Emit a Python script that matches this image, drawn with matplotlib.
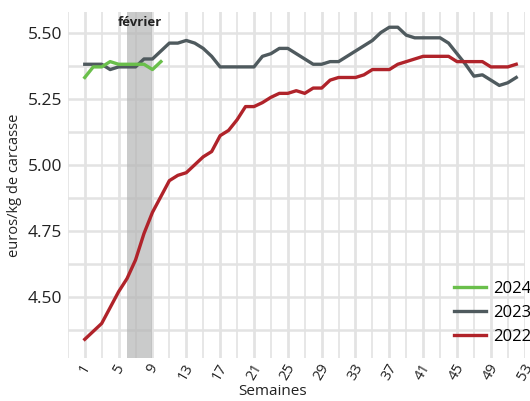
import matplotlib
matplotlib.use("Agg")
import matplotlib.pyplot as plt
import numpy as np

plt.rcParams['font.family'] = ['Open Sans', 'DejaVu Sans']

weeks_2022 = list(range(1, 53))
values_2022 = [4.34, 4.37, 4.40, 4.46, 4.52, 4.57, 4.64, 4.74, 4.82, 4.88,
               4.94, 4.96, 4.97, 5.00, 5.03, 5.05, 5.11, 5.13, 5.17, 5.22,
               5.22, 5.235, 5.255, 5.27, 5.27, 5.28, 5.27, 5.29, 5.29, 5.32,
               5.33, 5.33, 5.33, 5.34, 5.36, 5.36, 5.36, 5.38, 5.39, 5.40,
               5.41, 5.41, 5.41, 5.41, 5.39, 5.39, 5.39, 5.39, 5.37, 5.37,
               5.37, 5.38]

weeks_2023 = list(range(1, 53))
values_2023 = [5.38, 5.38, 5.38, 5.36, 5.37, 5.37, 5.37, 5.40, 5.40, 5.43,
               5.46, 5.46, 5.47, 5.46, 5.44, 5.41, 5.37, 5.37, 5.37, 5.37,
               5.37, 5.41, 5.42, 5.44, 5.44, 5.42, 5.40, 5.38, 5.38, 5.39,
               5.39, 5.41, 5.43, 5.45, 5.47, 5.50, 5.52, 5.52, 5.49, 5.48,
               5.48, 5.48, 5.48, 5.46, 5.42, 5.38, 5.335, 5.34, 5.32, 5.30,
               5.31, 5.33]

weeks_2024 = list(range(1, 11))
values_2024 = [5.33, 5.37, 5.37, 5.39, 5.38, 5.38, 5.38, 5.38, 5.36, 5.39]

xtick_labels = [str(w) for w in range(1, 54, 4)]
yticks = [4.50, 4.75, 5.00, 5.25, 5.50]
band = (6, 9)

fig = plt.figure(figsize=(5.30, 4.01), dpi=100)
ax = fig.add_axes([0.128, 0.107, 0.862, 0.863])

ax.set_xlim(-1, 53)
ax.set_ylim(4.269, 5.5775)

grid_c = '#e3e3e3'
for w in range(-1, 54, 2):
    lw = 2.0 if (w - 1) % 4 == 0 else 1.2
    ax.axvline(w, color=grid_c, lw=lw, zorder=0)
for v in np.arange(4.375, 5.51, 0.125):
    ax.axhline(v, color=grid_c, lw=1.8, zorder=0)

ax.axvspan(band[0], band[1], color='#b4b5b5', alpha=0.7, lw=0, zorder=1)
ax.text((band[0] + band[1]) / 2, 5.562, 'février', ha='center', va='top',
        fontsize=9.5, fontweight='bold', color='#222222')

ax.plot(weeks_2024, values_2024, color='#6abf4b', lw=2.4, label='2024', zorder=4)
ax.plot(weeks_2023, values_2023, color='#4f5a5e', lw=2.4, label='2023', zorder=3)
ax.plot(weeks_2022, values_2022, color='#b0232a', lw=2.4, label='2022', zorder=3)

ax.set_xticks(range(1, 54, 4))
ax.set_xticklabels(xtick_labels, rotation=60, ha='center', fontsize=10.5, color='#222222')
ax.set_yticks(yticks)
ax.set_yticklabels([f'{v:.2f}' for v in yticks], fontsize=12.5, color='#222222')
ax.tick_params(length=0, pad=4)
ax.tick_params(axis='x', pad=2)
for s in ax.spines.values():
    s.set_visible(False)

ax.set_xlabel('Semaines', fontsize=11, color='#222222', labelpad=1)
ax.xaxis.set_label_coords(0.449, -0.075)
ax.set_ylabel('euros/kg de carcasse', fontsize=10.5, color='#222222', labelpad=4)

leg = ax.legend(loc='upper left', frameon=False, fontsize=12, handlelength=1.9,
                handletextpad=0.45, labelspacing=0.48, borderpad=0, borderaxespad=0,
                bbox_to_anchor=(0.845, 0.222))

fig.savefig('out.png', dpi=100)
